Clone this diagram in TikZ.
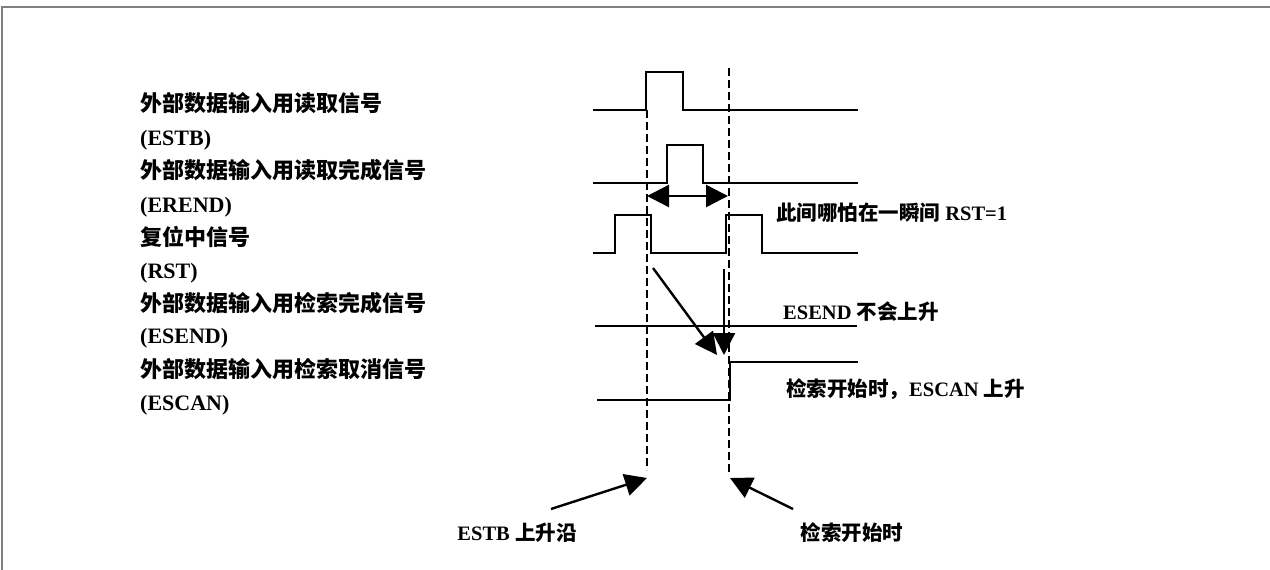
\documentclass[tikz,border=0pt]{standalone}
\usepackage{fontspec}
\setmainfont{Liberation Serif}
\newfontfamily\cjk{Noto Sans CJK SC}
\usetikzlibrary{arrows.meta}

\begin{document}
\begin{tikzpicture}[x=1pt,y=-1pt,
    wave/.style={line width=2.2pt},
    edge/.style={line width=1.5pt,dash pattern=on 8pt off 4pt},
    bigarrow/.style={line width=2.4pt,-{Triangle[length=22pt,width=22pt]}},
    sig/.style={anchor=west,inner sep=0pt,font=\fontsize{22}{26}\selectfont\bfseries},
    note/.style={anchor=west,inner sep=0pt,font=\fontsize{20.5}{24}\selectfont\bfseries}]
    \useasboundingbox (0,0) rectangle (1270,570);
    % frame
    \draw[gray,line width=2pt] (2,570) -- (2,7) -- (1270,7);
    % signal names
    \node[sig] (estbname) at (140,103) {\cjk 外部数据输入用读取信号};
    \node[sig] (estb) at (140,140) {(ESTB)};
    \node[sig] (erendname) at (140,170) {\cjk 外部数据输入用读取完成信号};
    \node[sig] (erend) at (140,207) {(EREND)};
    \node[sig] (rstname) at (140,237) {\cjk 复位中信号};
    \node[sig] (rst) at (140,273) {(RST)};
    \node[sig] (esendname) at (140,303) {\cjk 外部数据输入用检索完成信号};
    \node[sig] (esend) at (140,338) {(ESEND)};
    \node[sig] (escanname) at (140,369) {\cjk 外部数据输入用检索取消信号};
    \node[sig] (escan) at (140,405) {(ESCAN)};
    % waveforms
    \draw[wave] (593,110) -- (646,110) -- (646,72) -- (683,72) -- (683,110) -- (858,110);
    \draw[wave] (593,183) -- (667,183) -- (667,145) -- (703,145) -- (703,183) -- (858,183);
    \draw[wave] (593,253) -- (615,253) -- (615,215) -- (651,215) -- (651,253)
        -- (726,253) -- (726,215) -- (762,215) -- (762,253) -- (858,253);
    \draw[wave] (595,326) -- (857,326);
    \draw[wave] (597,400) -- (730,400) -- (730,362) -- (858,362);
    % time marks
    \coordinate (risetop) at (647,110);
    \coordinate (rise) at (647,478);
    \coordinate (starttop) at (729,68);
    \coordinate (start) at (730,478);
    \draw[edge] (risetop) -- (647,470);
    \draw[edge] (starttop) -- (729,475);
    % window
    \coordinate (winl) at (647,196);
    \coordinate (winr) at (728,196);
    \draw[bigarrow,{Triangle[length=22pt,width=22pt]}-{Triangle[length=22pt,width=22pt]}] (winl) -- (winr);
    \node[note] (gap) at (776,213) {{\cjk 此间哪怕在一瞬间} RST=1};
    % effect arrows
    \coordinate (rstfall) at (653,268);
    \coordinate (esendhit) at (717,355);
    \coordinate (rstrise) at (724,269);
    \coordinate (escanhit) at (724,355);
    \draw[bigarrow] (rstfall) -- (esendhit);
    \draw[bigarrow] (rstrise) -- (escanhit);
    \node[note] (noesend) at (783,312) {ESEND {\cjk 不会上升}};
    \node[note] (escanup) at (786,389) {{\cjk 检索开始时，}ESCAN {\cjk 上升}};
    % bottom notes
    \node[note,anchor=center] (estbup) at (517,533) {ESTB {\cjk 上升沿}};
    \node[note,anchor=center] (startnote) at (852,533) {\cjk 检索开始时};
    \coordinate (estbtail) at (551,509);
    \coordinate (starttail) at (793,509);
    \draw[bigarrow] (estbtail) -- (rise);
    \draw[bigarrow] (starttail) -- (start);
\end{tikzpicture}
\end{document}
